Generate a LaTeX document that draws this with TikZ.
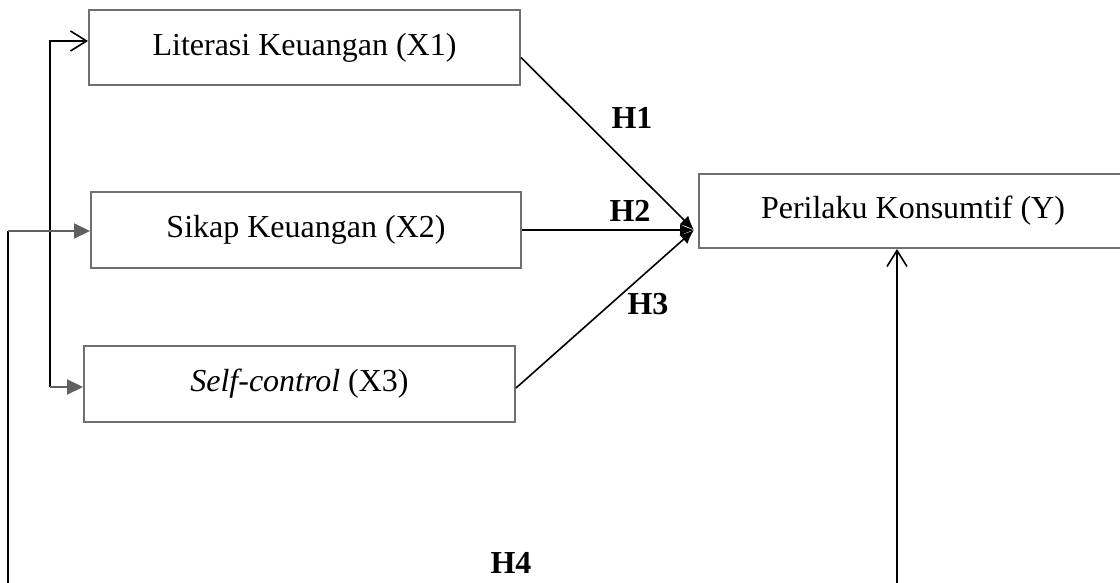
\documentclass[tikz,border=0pt]{standalone}
\usepackage{fontspec}
\setmainfont{Liberation Serif}
\usetikzlibrary{arrows.meta}
\definecolor{boxgray}{HTML}{707070}
\definecolor{arrgray}{HTML}{606060}
\begin{document}
\begin{tikzpicture}[x=1pt,y=-1pt,
  box/.style={draw=boxgray, line width=2pt, inner sep=0pt, anchor=north west,
    font=\fontsize{32}{38}\selectfont},
  hlabel/.style={font=\fontsize{32}{38}\selectfont\bfseries, inner sep=0pt},
  conn/.style={draw=black, line width=1.6pt},
  blob/.style={conn, -{Latex[length=14pt,width=12pt]}},
  openarr/.style={conn, -{Straight Barb[length=16pt,width=20pt,line width=1.6pt]}},
  grayarr/.style={draw=arrgray, line width=2pt, -{Triangle[length=16pt,width=15pt]}}]
\useasboundingbox (0,0) rectangle (1120,582);
\clip (0,0) rectangle (1120,582);
\fill[white] (0,0) rectangle (1120,582);
\node[box, minimum width=431pt, minimum height=75pt] (x1) at (88,9) {Literasi Keuangan (X1)};
\node[box, minimum width=430pt, minimum height=76pt] (x2) at (90,191) {Sikap Keuangan (X2)};
\node[box, minimum width=431pt, minimum height=76pt] (x3) at (83,345) {\textit{Self-control} (X3)};
\node[box, minimum width=428pt, minimum height=74pt] (y) at (698,173) {Perilaku Konsumtif (Y)};
\coordinate (tip) at ([xshift=-4pt,yshift=-19pt]y.west);
\draw[blob] ([yshift=-10pt]x1.east) -- (tip);
\draw[blob] (x2.east) -- (tip);
\draw[blob] ([yshift=-4pt]x3.east) -- (tip);
\node[hlabel] (h1) at (632,118) {H1};
\node[hlabel] (h2) at (630,211) {H2};
\node[hlabel] (h3) at (648,304) {H3};
\node[hlabel] (h4) at (511,563) {H4};
\coordinate (a) at (50,41);
\coordinate (b) at (50,387);
\draw[openarr] (b) -- (a) -- (x1.west |- a);
\draw[grayarr] (b) -- (x3.west |- b);
\coordinate (c) at (8,590);
\coordinate (d) at (8,231);
\draw[conn] (c) -- (d);
\draw[grayarr] (d) -- (x2.west |- d);
\coordinate (e) at (897,590);
\draw[openarr] (e) -- (y.south -| e);
\end{tikzpicture}
\end{document}
